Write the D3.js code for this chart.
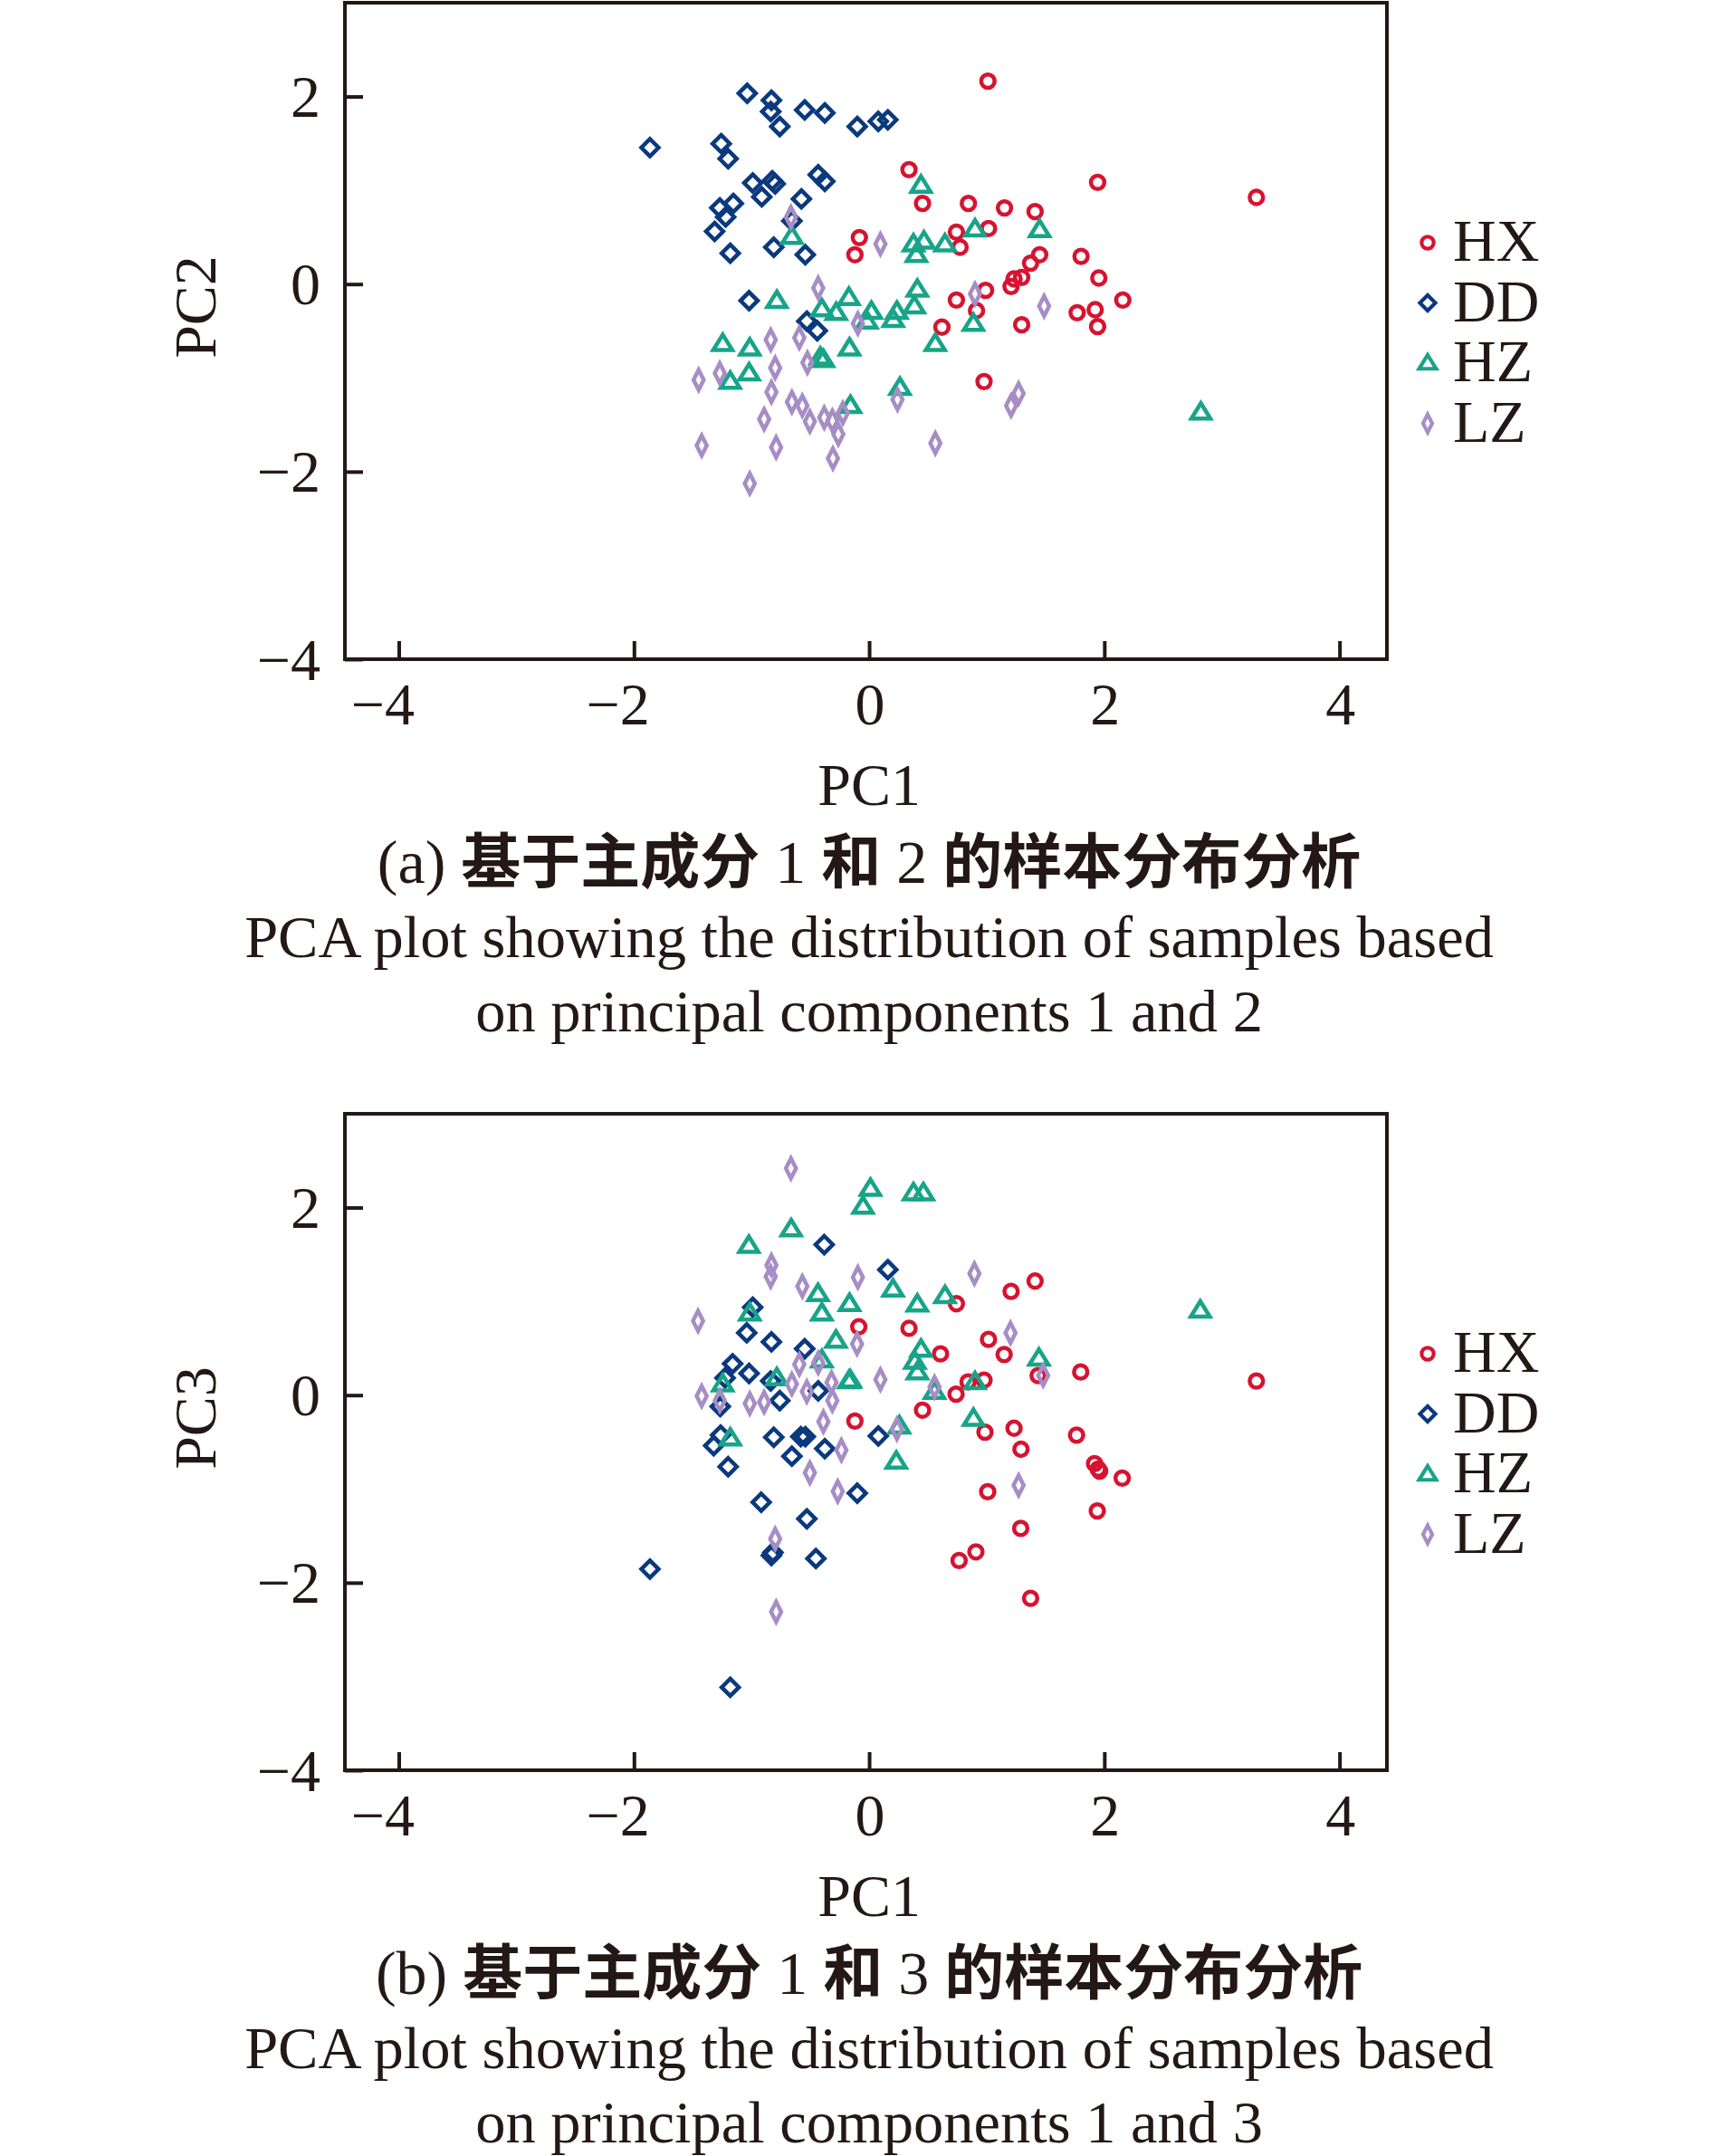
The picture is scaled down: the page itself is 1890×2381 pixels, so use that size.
<!DOCTYPE html>
<html>
<head>
<meta charset="utf-8">
<script src="https://cdn.jsdelivr.net/npm/d3@7"></script>
<style>
  body { margin: 0; background: #fff; }
  svg { display: block; }
  text { fill: #231815; }
</style>
</head>
<body>
<svg id="chart"></svg>
<script>
const W = 1890, H = 2381;

// PC1 vs PC2
const hxA = [[0.339,1.22],[0.454,0.86],[-0.083,0.496],[-0.121,0.313],[0.742,0.554],[1.010,2.163],
  [1.943,1.085],[3.293,0.924],[0.844,0.86],[1.151,0.812],[1.411,0.773],[1.015,0.593],[0.773,0.393],
  [1.450,0.313],[1.373,0.223],[1.297,0.071],[1.232,0.055],[1.207,-0.025],[1.802,0.296],[1.953,0.065],
  [0.990,-0.067],[0.742,-0.17],[2.157,-0.17],[0.913,-0.283],[0.619,-0.459],[1.297,-0.434],
  [1.769,-0.305],[1.922,-0.273],[1.943,-0.453],[0.977,-1.039]];
const ddA = [[-1.864,1.455],[-1.037,2.034],[-0.831,1.96],[-0.837,1.84],[-0.760,1.68],[-0.548,1.857],
  [-0.377,1.825],[-0.101,1.68],[0.078,1.735],[0.159,1.751],[-1.258,1.497],[-1.199,1.336],[-0.990,1.078],
  [-0.824,1.101],[-0.799,1.069],[-0.913,0.93],[-0.433,1.165],[-0.377,1.095],[-1.270,0.812],[-1.155,0.860],
  [-1.220,0.715],[-0.576,0.908],[-0.657,0.673],[-1.314,0.561],[-1.181,0.329],[-0.811,0.393],
  [-0.543,0.313],[-1.021,-0.177],[-0.530,-0.395],[-0.441,-0.498]];
const hzA = [[0.441,1.053],[-0.657,0.506],[0.377,0.426],[0.466,0.457],[0.402,0.313],[0.645,0.426],
  [0.900,0.586],[1.450,0.580],[-0.785,-0.177],[-0.172,-0.144],[0.410,-0.057],[-0.402,-0.266],
  [-0.280,-0.305],[0.019,-0.292],[-0.019,-0.395],[0.236,-0.292],[0.205,-0.379],[0.384,-0.234],
  [0.563,-0.636],[-1.245,-0.636],[-1.015,-0.684],[-0.167,-0.684],[-0.415,-0.781],[-0.389,-0.807],
  [-1.021,-0.949],[-1.181,-1.039],[0.262,-1.103],[-0.159,-1.296],[0.887,-0.421],[2.821,-1.367]];
const lzA = [[-0.665,0.715],[0.096,0.426],[-0.433,-0.041],[0.900,-0.105],[1.488,-0.234],[1.271,-1.167],
  [1.207,-1.296],[-0.096,-0.421],[-0.837,-0.595],[-0.594,-0.572],[-0.525,-0.839],[-0.799,-0.894],
  [-1.270,-0.952],[-1.450,-1.022],[-0.831,-1.151],[-0.657,-1.258],[-0.568,-1.296],[-0.504,-1.466],
  [-0.382,-1.425],[-0.313,-1.457],[-0.224,-1.376],[-0.262,-1.601],[-0.893,-1.441],[-1.424,-1.721],
  [-0.791,-1.740],[-0.308,-1.859],[-1.015,-2.126],[0.241,-1.232],[0.563,-1.698]];

// PC1 vs PC3
const hxB = [[-0.088,0.729],[0.339,0.712],[0.607,0.440],[0.742,0.975],[1.207,1.107],[1.411,1.216],
  [1.015,0.594],[1.148,0.433],[1.437,0.209],[1.799,0.247],[3.293,0.151],[0.841,0.141],[0.977,0.161],
  [0.739,0.010],[0.454,-0.160],[-0.121,-0.276],[0.985,-0.395],[1.232,-0.353],[1.291,-0.577],
  [1.764,-0.426],[1.917,-0.731],[1.948,-0.789],[1.960,-0.810],[2.152,-0.885],[1.008,-1.030],
  [1.940,-1.235],[1.289,-1.421],[0.908,-1.671],[0.765,-1.764],[1.373,-2.166]];
const ddB = [[-0.382,1.605],[0.159,1.338],[-0.990,0.937],[-1.041,0.664],[-0.831,0.568],[-0.548,0.494],
  [-1.161,0.334],[-1.021,0.231],[-1.225,0.183],[-0.837,0.151],[-0.433,0.045],[-0.760,-0.058],
  [-1.266,-0.122],[-1.263,-0.426],[-1.322,-0.539],[-1.199,-0.763],[-0.811,-0.449],[-0.581,-0.443],
  [-0.543,-0.443],[-0.657,-0.651],[-0.377,-0.571],[0.078,-0.436],[-0.101,-1.046],[-0.918,-1.142],
  [-0.530,-1.319],[-0.831,-1.710],[-0.818,-1.678],[-0.453,-1.742],[-1.864,-1.855],[-1.181,-3.116]];
const hzB = [[0.011,2.204],[0.377,2.156],[0.461,2.156],[-0.052,2.012],[-0.663,1.771],[-1.023,1.595],
  [-0.435,1.081],[-0.167,0.975],[-0.402,0.873],[0.203,1.129],[0.410,0.969],[0.645,1.059],[-1.015,0.873],
  [-0.282,0.584],[0.441,0.488],[0.389,0.359],[0.410,0.247],[-0.402,0.375],[-1.245,0.118],[-0.785,0.183],
  [-0.172,0.151],[-0.160,0.160],[0.556,0.038],[2.816,0.905],[1.444,0.392],[0.900,0.141],[-1.181,-0.459],
  [0.257,-0.330],[0.231,-0.706],[0.887,-0.25]];
const lzB = [[-0.665,2.419],[-0.831,1.386],[-0.837,1.264],[-0.568,1.161],[-0.096,1.258],[-1.455,0.792],
  [-0.103,0.546],[-0.433,0.344],[-0.594,0.327],[-0.657,0.118],[-0.530,0.038],[-0.320,0.135],[0.096,0.167],
  [0.556,0.087],[-1.424,-0.010],[-1.270,-0.058],[-1.015,-0.090],[-0.893,-0.074],[-0.313,-0.058],
  [0.895,1.296],[1.202,0.664],[1.480,0.209],[-0.389,-0.282],[-0.236,-0.587],[-0.504,-0.828],
  [-0.267,-1.027],[0.236,-0.363],[-0.799,-1.533],[-0.791,-2.310],[1.271,-0.962]];

const groups = ["HX", "DD", "HZ", "LZ"];
const xTicks = [-4, -2, 0, 2, 4];
const yTicks = [-4, -2, 0, 2];

const colors = { HX: "#d7132f", DD: "#0b397e", HZ: "#17a488", LZ: "#a78dc5" };
const shapes = {
  HX: "M7.4,0A7.4,7.4 0 1,1 -7.4,0A7.4,7.4 0 1,1 7.4,0Z",
  DD: "M0,-9.5L9.5,0L0,9.5L-9.5,0Z",
  HZ: "M0,-10L10.5,7L-10.5,7Z",
  LZ: "M0,-11L5.6,0L0,11L-5.6,0Z"
};

const svg = d3.select("#chart").attr("width", W).attr("height", H);
svg.append("rect").attr("width", W).attr("height", H).attr("fill", "#fff");

const left = 381, right = 1532, plotH = 725;
const x = d3.scaleLinear().domain([-4.458, 4.403]).range([left, right]);
const fmt = d => d < 0 ? "\u2212" + Math.abs(d) : String(d);
const serif = "'Liberation Serif', 'Times New Roman', serif";

function drawPanel(top, data, yName, cn, en1, en2) {
  const y = d3.scaleLinear().domain([-4, 3]).range([top + plotH, top]);
  const g = svg.append("g");

  // points
  groups.forEach(k => {
    g.append("g").selectAll("path").data(data[k]).join("path")
      .attr("d", shapes[k])
      .attr("transform", d => `translate(${x(d[0])},${y(d[1])})`)
      .attr("fill", "none")
      .attr("stroke", colors[k])
      .attr("stroke-width", 4.5);
  });

  // axes, ticks inward
  const ax = g.append("g").attr("transform", `translate(0,${top + plotH})`)
    .call(d3.axisBottom(x).tickValues(xTicks).tickFormat(fmt).tickSizeInner(-20).tickSizeOuter(0));
  ax.selectAll("text").attr("y", 72).attr("dy", null).attr("x", 17)
    .attr("text-anchor", "end");
  const ay = g.append("g").attr("transform", `translate(${left},0)`)
    .call(d3.axisLeft(y).tickValues(yTicks).tickFormat(fmt).tickSizeInner(-20).tickSizeOuter(0));
  ay.selectAll("text").attr("x", -27).attr("dy", 22);
  [ax, ay].forEach(a => {
    a.select(".domain").remove();
    a.selectAll("line").attr("stroke", "#231815").attr("stroke-width", 4);
    a.selectAll("text").attr("font-family", serif).attr("font-size", 66).attr("fill", "#231815");
  });

  g.append("rect").attr("x", left).attr("y", top).attr("width", right - left).attr("height", plotH)
    .attr("fill", "none").attr("stroke", "#231815").attr("stroke-width", 4);

  // axis titles
  g.append("text").attr("x", x(0)).attr("y", top + plotH + 161)
    .attr("text-anchor", "middle").attr("font-family", serif).attr("font-size", 66).text("PC1");
  g.append("text").attr("transform", `translate(238,${top + 336}) rotate(-90)`)
    .attr("text-anchor", "middle").attr("font-family", serif).attr("font-size", 66).text(yName);

  // legend
  groups.forEach((k, i) => {
    const ly = top + 265 + i * 66.5;
    g.append("path").attr("d", shapes[k]).attr("transform", `translate(1577,${ly}) scale(0.9)`)
      .attr("fill", "none").attr("stroke", colors[k]).attr("stroke-width", 4.6);
    g.append("text").attr("x", 1605).attr("y", ly + 20).attr("font-family", serif)
      .attr("font-size", 66).text(k);
  });

  // caption
  const c = g.append("text").attr("x", x(0)).attr("y", top + 972).attr("text-anchor", "middle");
  cn.forEach(([s, isCjk]) => {
    c.append("tspan").text(s)
      .attr("font-family", isCjk ? "'Noto Sans CJK SC', sans-serif" : serif)
      .attr("font-weight", isCjk ? 700 : 400)
      .attr("font-size", isCjk ? 66 : 68);
  });
  g.append("text").attr("x", x(0)).attr("y", top + 1054).attr("text-anchor", "middle")
    .attr("font-family", serif).attr("font-size", 66.5).text(en1);
  g.append("text").attr("x", x(0)).attr("y", top + 1136).attr("text-anchor", "middle")
    .attr("font-family", serif).attr("font-size", 66.5).text(en2);
}

drawPanel(3, { HX: hxA, DD: ddA, HZ: hzA, LZ: lzA }, "PC2",
  [["(a) ", false], ["基于主成分", true], [" 1 ", false], ["和", true], [" 2 ", false], ["的样本分布分析", true]],
  "PCA plot showing the distribution of samples based", "on principal components 1 and 2");
drawPanel(1230, { HX: hxB, DD: ddB, HZ: hzB, LZ: lzB }, "PC3",
  [["(b) ", false], ["基于主成分", true], [" 1 ", false], ["和", true], [" 3 ", false], ["的样本分布分析", true]],
  "PCA plot showing the distribution of samples based", "on principal components 1 and 3");
</script>
</body>
</html>
